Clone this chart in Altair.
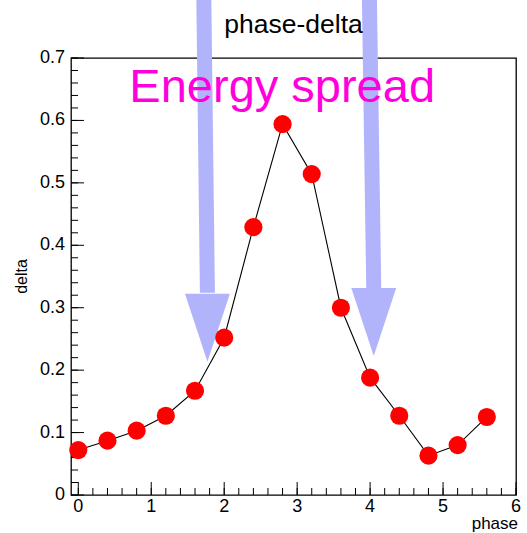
import altair as alt
import pandas as pd

# ---- data ----
phase = [0.0, 0.4, 0.8, 1.2, 1.6, 2.0, 2.4, 2.8, 3.2, 3.6, 4.0, 4.4, 4.8, 5.2, 5.6]
delta = [0.072, 0.087, 0.103, 0.127, 0.167, 0.252, 0.429, 0.594, 0.514, 0.300,
         0.188, 0.127, 0.063, 0.080, 0.125]

chart_title = "phase-delta"
x_title = "phase"
y_title = "delta"
note_text = ["Energy spread"]
note_x = [2.795]
note_y = [0.629]

# annotation arrows (data coordinates)
arrow_x_top = [1.72, 3.99]
arrow_x_base = [1.77, 4.05]
arrow_y_top = [0.80, 0.80]
arrow_y_base = [0.324, 0.331]
head_x = [1.77, 4.05]
head_y = [0.268, 0.277]

# axis ticks and labels
x_major = [0, 1, 2, 3, 4, 5, 6]
x_labels = ["0", "1", "2", "3", "4", "5", "6"]
x_minor = [round(i * 0.2, 1) for i in range(31)]
y_major = [0.0, 0.1, 0.2, 0.3, 0.4, 0.5, 0.6, 0.7]
y_labels = ["0", "0.1", "0.2", "0.3", "0.4", "0.5", "0.6", "0.7"]
y_minor = [round(i * 0.02, 2) for i in range(36)]

FONT = "Liberation Sans"
W, H = 445, 437
ARROW = "#b2b4fb"

xs = alt.Scale(domain=[-0.1, 6], nice=False, zero=False)
ys = alt.Scale(domain=[0, 0.7], nice=False, zero=False)

df = pd.DataFrame({"phase": phase, "delta": delta})
arrows = pd.DataFrame({"x": arrow_x_top, "x2": arrow_x_base,
                       "y": arrow_y_top, "y2": arrow_y_base,
                       "hx": head_x, "hy": head_y})

shaft = alt.Chart(arrows).mark_rule(color=ARROW, strokeWidth=15, strokeCap="butt").encode(
    x=alt.X("x:Q", scale=xs, axis=None), x2="x2:Q",
    y=alt.Y("y:Q", scale=ys, axis=None), y2="y2:Q")

head = alt.Chart(arrows).mark_point(
    shape="M -0.66 -1 L 0.66 -1 L 0 1 Z", filled=True, fill=ARROW,
    size=4624, opacity=1).encode(
    x=alt.X("hx:Q", scale=xs, axis=None),
    y=alt.Y("hy:Q", scale=ys, axis=None))

def yticks(vals, length):
    return alt.Chart(pd.DataFrame({"t": vals})).mark_rule(color="black", strokeWidth=1).encode(
        y=alt.Y("t:Q", scale=ys, axis=None), x=alt.value(0), x2=alt.value(length))

def xticks(vals, length):
    return alt.Chart(pd.DataFrame({"t": vals})).mark_rule(color="black", strokeWidth=1).encode(
        x=alt.X("t:Q", scale=xs, axis=None), y=alt.value(H), y2=alt.value(H - length))

ylab = alt.Chart(pd.DataFrame({"t": y_major, "s": y_labels})).mark_text(
    font=FONT, fontSize=18, color="black", align="right", baseline="middle").encode(
    y=alt.Y("t:Q", scale=ys, axis=None), x=alt.value(-6), text="s:N")

xlab = alt.Chart(pd.DataFrame({"t": x_major, "s": x_labels})).mark_text(
    font=FONT, fontSize=18, color="black", align="center", baseline="top").encode(
    x=alt.X("t:Q", scale=xs, axis=None), y=alt.value(H + 3), text="s:N")

def label(txt, x, y, size, **kw):
    return alt.Chart(pd.DataFrame({"s": [txt]})).mark_text(
        font=FONT, fontSize=size, color="black", **kw).encode(
        x=alt.value(x), y=alt.value(y), text="s:N")

xtitle = label(x_title, W + 2, H + 34, 17, align="right", baseline="alphabetic")
ytitle = label(y_title, -49, H / 2, 16, align="center", baseline="middle", angle=270)
ctitle = label(chart_title, W / 2, -25, 26.5, align="center", baseline="alphabetic")

line = alt.Chart(df).mark_line(color="black", strokeWidth=1.1).encode(
    x=alt.X("phase:Q", scale=xs, axis=None),
    y=alt.Y("delta:Q", scale=ys, axis=None))

points = alt.Chart(df).mark_point(filled=True, color="#ff0000", opacity=1, size=330, shape="circle").encode(
    x=alt.X("phase:Q", scale=xs, axis=None),
    y=alt.Y("delta:Q", scale=ys, axis=None))

note = alt.Chart(pd.DataFrame({"t": note_text, "x": note_x, "y": note_y})).mark_text(
    font=FONT, fontSize=47, color="#ff00dd", align="center", baseline="alphabetic").encode(
    x=alt.X("x:Q", scale=xs, axis=None),
    y=alt.Y("y:Q", scale=ys, axis=None),
    text="t:N")

chart = alt.layer(
    shaft, head,
    yticks(y_minor, 7), yticks(y_major, 13),
    xticks(x_minor, 7), xticks(x_major, 13),
    ylab, xlab, xtitle, ytitle, ctitle,
    line, points, note
).properties(
    width=W, height=H,
    autosize=alt.AutoSizeParams(type="none"),
    padding={"left": 71, "top": 58, "right": 11, "bottom": 38},
    background="white",
).configure_view(stroke="black", strokeWidth=1.3)

chart.save("out.html", embed_options={"renderer": "svg", "actions": False})
